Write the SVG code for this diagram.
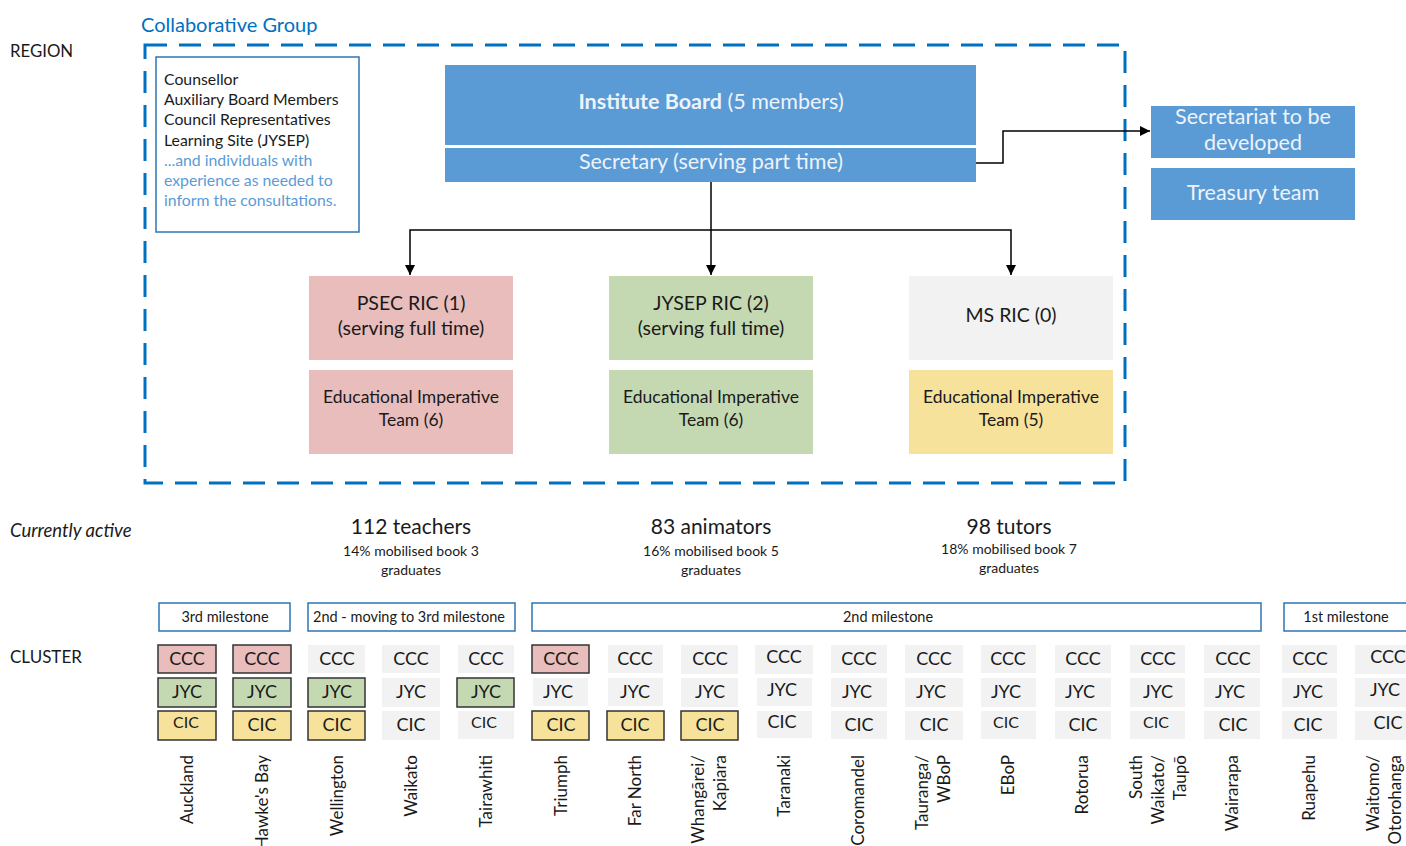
<svg xmlns="http://www.w3.org/2000/svg" width="1406" height="846" viewBox="0 0 1406 846">
  <defs>
    <marker id="arrow" viewBox="0 0 10 10" refX="10" refY="5" markerWidth="10" markerHeight="10" markerUnits="userSpaceOnUse" orient="auto">
      <path d="M0,0 L10,5 L0,10 z" fill="#000"/>
    </marker>
    <style>
      text { font-family: Lato, "Open Sans", "Liberation Sans", sans-serif; fill: #1a1a1a; }
      .blue-box { fill: #5B9BD5; }
      .on-blue { fill: #EEF3FA; font-size: 21.5px; text-anchor: middle; }
      .ric { font-size: 19.5px; text-anchor: middle; }
      .team { font-size: 17.5px; text-anchor: middle; }
      .pink { fill: #E8BDBC; }
      .green { fill: #C4D9B1; }
      .yellow { fill: #F6E29B; }
      .grey { fill: #F2F2F2; }
      .edge { stroke: #333; stroke-width: 1.5; }
      .cell { font-size: 18px; text-anchor: middle; }
      .cell-sm { font-size: 16px; text-anchor: middle; }
      .milestone { fill: #fff; stroke: #2E75B6; stroke-width: 1.5; }
      .ms-text { font-size: 14.5px; text-anchor: middle; }
      .lbl { font-size: 17px; text-anchor: end; }
      .conn { fill: none; stroke: #000; stroke-width: 1.5; }
      .stat-big { font-size: 21px; text-anchor: middle; }
      .stat-small { font-size: 14px; text-anchor: middle; }
    </style>
  </defs>

  <!-- row headings -->
  <text x="10" y="57" font-size="16.8">REGION</text>
  <text x="10" y="537" font-size="18.5" font-style="italic">Currently active</text>
  <text x="10" y="663" font-size="17">CLUSTER</text>

  <!-- collaborative group frame -->
  <g id="collaborative-group">
    <text x="141" y="32" font-size="20" style="fill:#0070C0">Collaborative Group</text>
    <rect x="145" y="45" width="980" height="438" fill="none" stroke="#0070C0" stroke-width="3" stroke-dasharray="22 12"/>
  </g>

  <g id="consultation-members">
    <rect x="156" y="57" width="203" height="175" fill="#fff" stroke="#2E75B6" stroke-width="1.5"/>
    <text font-size="15.8">
      <tspan x="164" y="85">Counsellor</tspan>
      <tspan x="164" y="105">Auxiliary Board Members</tspan>
      <tspan x="164" y="125">Council Representatives</tspan>
      <tspan x="164" y="146">Learning Site (JYSEP)</tspan>
    </text>
    <text font-size="15.8" style="fill:#5B9BD5">
      <tspan x="164" y="166">...and individuals with</tspan>
      <tspan x="164" y="186">experience as needed to</tspan>
      <tspan x="164" y="206">inform the consultations.</tspan>
    </text>
  </g>

  <g id="institute-board">
    <rect class="blue-box" x="445" y="65" width="531" height="80"/>
    <text class="on-blue" x="711" y="109"><tspan font-weight="bold">Institute Board</tspan> (5 members)</text>
  </g>

  <g id="secretary">
    <rect class="blue-box" x="445" y="148" width="531" height="34"/>
    <text class="on-blue" x="711" y="169">Secretary (serving part time)</text>
  </g>

  <g id="secretariat">
    <rect class="blue-box" x="1151" y="106" width="204" height="52"/>
    <text class="on-blue"><tspan x="1253" y="124">Secretariat to be</tspan><tspan x="1253" y="150">developed</tspan></text>
  </g>

  <g id="treasury">
    <rect class="blue-box" x="1151" y="168" width="204" height="52"/>
    <text class="on-blue" x="1253" y="200">Treasury team</text>
  </g>

  <g id="psec-ric">
    <rect class="pink" x="309" y="276" width="204" height="84"/>
    <text class="ric"><tspan x="411" y="310">PSEC RIC (1)</tspan><tspan x="411" y="335">(serving full time)</tspan></text>
  </g>
  <g id="psec-team">
    <rect class="pink" x="309" y="370" width="204" height="84"/>
    <text class="team"><tspan x="411" y="403">Educational Imperative</tspan><tspan x="411" y="426">Team (6)</tspan></text>
  </g>

  <g id="jysep-ric">
    <rect class="green" x="609" y="276" width="204" height="84"/>
    <text class="ric"><tspan x="711" y="310">JYSEP RIC (2)</tspan><tspan x="711" y="335">(serving full time)</tspan></text>
  </g>
  <g id="jysep-team">
    <rect class="green" x="609" y="370" width="204" height="84"/>
    <text class="team"><tspan x="711" y="403">Educational Imperative</tspan><tspan x="711" y="426">Team (6)</tspan></text>
  </g>

  <g id="ms-ric">
    <rect class="grey" x="909" y="276" width="204" height="84"/>
    <text class="ric" x="1011" y="322">MS RIC (0)</text>
  </g>
  <g id="ms-team">
    <rect class="yellow" x="909" y="370" width="204" height="84"/>
    <text class="team"><tspan x="1011" y="403">Educational Imperative</tspan><tspan x="1011" y="426">Team (5)</tspan></text>
  </g>

  <!-- connectors -->
  <g id="connectors">
    <polyline class="conn" points="976,163 1003,163 1003,131 1150,131" marker-end="url(#arrow)"/>
    <line class="conn" x1="711" y1="182" x2="711" y2="275" marker-end="url(#arrow)"/>
    <polyline class="conn" points="711,230 410,230 410,275" marker-end="url(#arrow)"/>
    <polyline class="conn" points="711,230 1011,230 1011,275" marker-end="url(#arrow)"/>
  </g>

  <!-- activity figures -->
  <g id="teachers">
    <text class="stat-big" x="411" y="534">112 teachers</text>
    <text class="stat-small"><tspan x="411" y="556">14% mobilised book 3</tspan><tspan x="411" y="575">graduates</tspan></text>
  </g>
  <g id="animators">
    <text class="stat-big" x="711" y="534">83 animators</text>
    <text class="stat-small"><tspan x="711" y="556">16% mobilised book 5</tspan><tspan x="711" y="575">graduates</tspan></text>
  </g>
  <g id="tutors">
    <text class="stat-big" x="1009" y="534">98 tutors</text>
    <text class="stat-small"><tspan x="1009" y="554">18% mobilised book 7</tspan><tspan x="1009" y="573">graduates</tspan></text>
  </g>

  <!-- milestone bands -->
  <g id="milestone-3">
    <rect class="milestone" x="159" y="603" width="131" height="28"/>
    <text class="ms-text" x="225" y="622">3rd milestone</text>
  </g>
  <g id="milestone-2-to-3">
    <rect class="milestone" x="308" y="603" width="207" height="28"/>
    <text class="ms-text" x="409" y="622">2nd - moving to 3rd milestone</text>
  </g>
  <g id="milestone-2">
    <rect class="milestone" x="532" y="603" width="729" height="28"/>
    <text class="ms-text" x="888" y="622">2nd milestone</text>
  </g>
  <g id="milestone-1">
    <rect class="milestone" x="1284" y="603" width="126" height="28"/>
    <text class="ms-text" x="1346" y="622">1st milestone</text>
  </g>

  <!-- clusters: CCC / JYC / CIC cells with the cluster name below -->
  <g id="cluster-auckland">
    <rect class="pink edge" x="158" y="645" width="58" height="28"/>
    <rect class="green edge" x="158" y="678" width="58" height="29"/>
    <rect class="yellow edge" x="158" y="711" width="58" height="29"/>
    <text class="cell" x="187" y="665">CCC</text>
    <text class="cell" x="187" y="698">JYC</text>
    <text class="cell-sm" x="186" y="728">CIC</text>
    <text class="lbl" transform="translate(187,755) rotate(-90)" x="0" y="6">Auckland</text>
  </g>
  <g id="cluster-hawkes-bay">
    <rect class="pink edge" x="233" y="645" width="58" height="28"/>
    <rect class="green edge" x="233" y="678" width="58" height="29"/>
    <rect class="yellow edge" x="233" y="711" width="58" height="29"/>
    <text class="cell" x="262" y="665">CCC</text>
    <text class="cell" x="262" y="698">JYC</text>
    <text class="cell" x="262" y="731">CIC</text>
    <text class="lbl" transform="translate(262,755) rotate(-90)" x="0" y="6">Hawke's Bay</text>
  </g>
  <g id="cluster-wellington">
    <rect class="grey" x="308" y="645" width="57" height="28"/>
    <rect class="green edge" x="308" y="678" width="57" height="29"/>
    <rect class="yellow edge" x="308" y="711" width="57" height="29"/>
    <text class="cell" x="337" y="665">CCC</text>
    <text class="cell" x="337" y="698">JYC</text>
    <text class="cell" x="337" y="731">CIC</text>
    <text class="lbl" transform="translate(337,755) rotate(-90)" x="0" y="6">Wellington</text>
  </g>
  <g id="cluster-waikato">
    <rect class="grey" x="382" y="645" width="58" height="28"/>
    <rect class="grey" x="382" y="678" width="58" height="29"/>
    <rect class="grey" x="382" y="711" width="58" height="29"/>
    <text class="cell" x="411" y="665">CCC</text>
    <text class="cell" x="411" y="698">JYC</text>
    <text class="cell" x="411" y="731">CIC</text>
    <text class="lbl" transform="translate(411,755) rotate(-90)" x="0" y="6">Waikato</text>
  </g>
  <g id="cluster-tairawhiti">
    <rect class="grey" x="458" y="645" width="56" height="28"/>
    <rect class="green edge" x="457" y="678" width="57" height="29"/>
    <rect class="grey" x="458" y="711" width="56" height="28"/>
    <text class="cell" x="486" y="665">CCC</text>
    <text class="cell" x="486" y="698">JYC</text>
    <text class="cell-sm" x="484" y="728">CIC</text>
    <text class="lbl" transform="translate(486,755) rotate(-90)" x="0" y="6">Tairawhiti</text>
  </g>
  <g id="cluster-triumph">
    <rect class="pink edge" x="532" y="645" width="57" height="28"/>
    <rect class="grey" x="533" y="678" width="55" height="28"/>
    <rect class="yellow edge" x="532" y="711" width="57" height="29"/>
    <text class="cell" x="561" y="665">CCC</text>
    <text class="cell" x="558" y="698">JYC</text>
    <text class="cell" x="561" y="731">CIC</text>
    <text class="lbl" transform="translate(561,755) rotate(-90)" x="0" y="6">Triumph</text>
  </g>
  <g id="cluster-far-north">
    <rect class="grey" x="608" y="645" width="55" height="28"/>
    <rect class="grey" x="608" y="678" width="55" height="28"/>
    <rect class="yellow edge" x="607" y="711" width="57" height="29"/>
    <text class="cell" x="635" y="665">CCC</text>
    <text class="cell" x="635" y="698">JYC</text>
    <text class="cell" x="635" y="731">CIC</text>
    <text class="lbl" transform="translate(635,755) rotate(-90)" x="0" y="6">Far North</text>
  </g>
  <g id="cluster-whangarei-kapiara">
    <rect class="grey" x="681" y="645" width="57" height="29"/>
    <rect class="grey" x="681" y="678" width="57" height="29"/>
    <rect class="yellow edge" x="681" y="711" width="57" height="29"/>
    <text class="cell" x="710" y="665">CCC</text>
    <text class="cell" x="710" y="698">JYC</text>
    <text class="cell" x="710" y="731">CIC</text>
    <text class="lbl" transform="translate(709,755) rotate(-90)"><tspan x="0" y="-5">Whangārei/</tspan><tspan x="0" y="17">Kapiara</tspan></text>
  </g>
  <g id="cluster-taranaki">
    <rect class="grey" x="755" y="645" width="58" height="29"/>
    <rect class="grey" x="757" y="678" width="55" height="28"/>
    <rect class="grey" x="757" y="711" width="55" height="27"/>
    <text class="cell" x="784" y="663">CCC</text>
    <text class="cell" x="782" y="696">JYC</text>
    <text class="cell" x="782" y="728">CIC</text>
    <text class="lbl" transform="translate(784,755) rotate(-90)" x="0" y="6">Taranaki</text>
  </g>
  <g id="cluster-coromandel">
    <rect class="grey" x="831" y="645" width="56" height="28"/>
    <rect class="grey" x="831" y="678" width="56" height="29"/>
    <rect class="grey" x="831" y="711" width="56" height="28"/>
    <text class="cell" x="859" y="665">CCC</text>
    <text class="cell" x="857" y="698">JYC</text>
    <text class="cell" x="859" y="731">CIC</text>
    <text class="lbl" transform="translate(858,755) rotate(-90)" x="0" y="6">Coromandel</text>
  </g>
  <g id="cluster-tauranga-wbop">
    <rect class="grey" x="905" y="645" width="58" height="28"/>
    <rect class="grey" x="905" y="678" width="58" height="29"/>
    <rect class="grey" x="905" y="711" width="58" height="29"/>
    <text class="cell" x="934" y="665">CCC</text>
    <text class="cell" x="931" y="698">JYC</text>
    <text class="cell" x="934" y="731">CIC</text>
    <text class="lbl" transform="translate(933,755) rotate(-90)"><tspan x="0" y="-5">Tauranga/</tspan><tspan x="0" y="17">WBoP</tspan></text>
  </g>
  <g id="cluster-ebop">
    <rect class="grey" x="981" y="645" width="55" height="28"/>
    <rect class="grey" x="981" y="678" width="55" height="29"/>
    <rect class="grey" x="981" y="711" width="55" height="28"/>
    <text class="cell" x="1008" y="665">CCC</text>
    <text class="cell" x="1006" y="698">JYC</text>
    <text class="cell-sm" x="1006" y="728">CIC</text>
    <text class="lbl" transform="translate(1008,755) rotate(-90)" x="0" y="6">EBoP</text>
  </g>
  <g id="cluster-rotorua">
    <rect class="grey" x="1055" y="645" width="56" height="28"/>
    <rect class="grey" x="1055" y="678" width="56" height="29"/>
    <rect class="grey" x="1055" y="711" width="56" height="28"/>
    <text class="cell" x="1083" y="665">CCC</text>
    <text class="cell" x="1080" y="698">JYC</text>
    <text class="cell" x="1083" y="731">CIC</text>
    <text class="lbl" transform="translate(1082,755) rotate(-90)" x="0" y="6">Rotorua</text>
  </g>
  <g id="cluster-south-waikato-taupo">
    <rect class="grey" x="1130" y="645" width="55" height="28"/>
    <rect class="grey" x="1130" y="678" width="55" height="29"/>
    <rect class="grey" x="1130" y="711" width="55" height="28"/>
    <text class="cell" x="1158" y="665">CCC</text>
    <text class="cell" x="1158" y="698">JYC</text>
    <text class="cell-sm" x="1156" y="728">CIC</text>
    <text class="lbl" transform="translate(1158,755) rotate(-90)"><tspan x="0" y="-16">South</tspan><tspan x="0" y="6">Waikato/</tspan><tspan x="0" y="28">Taupō</tspan></text>
  </g>
  <g id="cluster-wairarapa">
    <rect class="grey" x="1204" y="645" width="56" height="28"/>
    <rect class="grey" x="1204" y="678" width="56" height="29"/>
    <rect class="grey" x="1204" y="711" width="56" height="28"/>
    <text class="cell" x="1233" y="665">CCC</text>
    <text class="cell" x="1230" y="698">JYC</text>
    <text class="cell" x="1233" y="731">CIC</text>
    <text class="lbl" transform="translate(1232,755) rotate(-90)" x="0" y="6">Wairarapa</text>
  </g>
  <g id="cluster-ruapehu">
    <rect class="grey" x="1282" y="645" width="55" height="28"/>
    <rect class="grey" x="1282" y="678" width="55" height="29"/>
    <rect class="grey" x="1282" y="711" width="55" height="28"/>
    <text class="cell" x="1310" y="665">CCC</text>
    <text class="cell" x="1308" y="698">JYC</text>
    <text class="cell" x="1308" y="731">CIC</text>
    <text class="lbl" transform="translate(1309,755) rotate(-90)" x="0" y="6">Ruapehu</text>
  </g>
  <g id="cluster-waitomo-otorohanga">
    <rect class="grey" x="1355" y="645" width="55" height="29"/>
    <rect class="grey" x="1355" y="678" width="55" height="29"/>
    <rect class="grey" x="1355" y="711" width="55" height="29"/>
    <text class="cell" x="1388" y="663">CCC</text>
    <text class="cell" x="1385" y="696">JYC</text>
    <text class="cell" x="1388" y="729">CIC</text>
    <text class="lbl" transform="translate(1384,755) rotate(-90)"><tspan x="0" y="-5">Waitomo/</tspan><tspan x="0" y="17">Otorohanga</tspan></text>
  </g>
</svg>
